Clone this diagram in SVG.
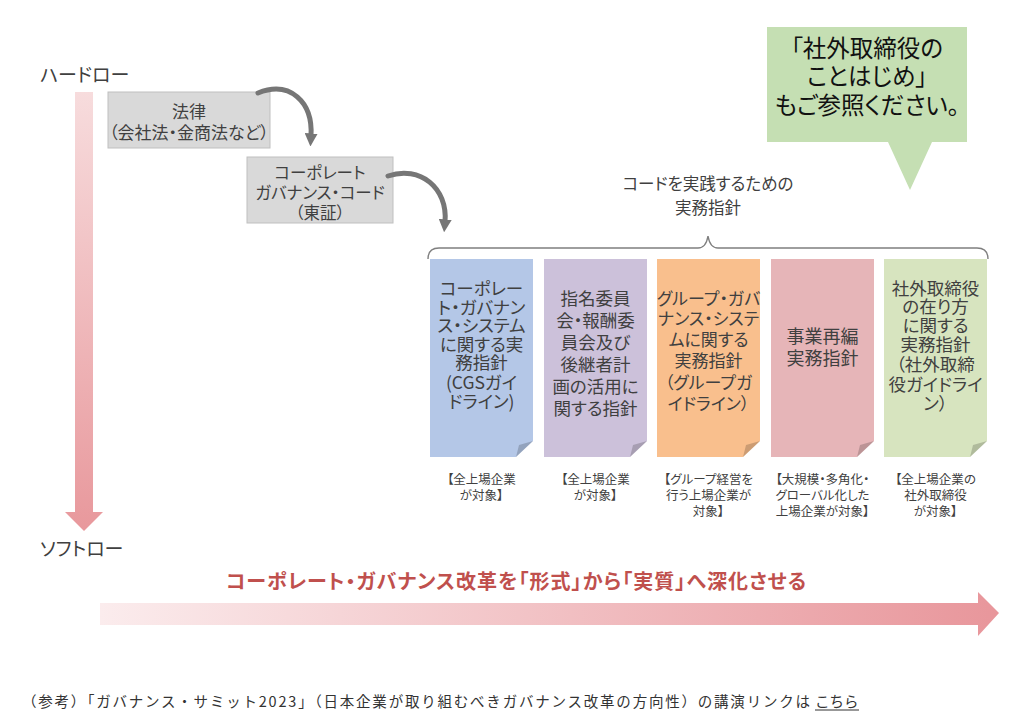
<svg xmlns="http://www.w3.org/2000/svg" width="1024" height="726" viewBox="0 0 1024 726">
<style>
.t{font-family:"Noto Sans CJK JP","Noto Sans",sans-serif;fill:#404040;text-anchor:middle;dominant-baseline:central;font-feature-settings:"palt";}
.l{font-family:"Noto Sans CJK JP","Noto Sans",sans-serif;fill:#404040;dominant-baseline:central;font-feature-settings:"palt";}
.box{fill:#d9d9d9;stroke:#bfbfbf;stroke-width:1;}
.card{stroke:none;}
.fold{fill:#000;fill-opacity:0.18;}
.conn{fill:none;stroke:#767676;stroke-width:5;stroke-linecap:round;}
.brace{fill:none;stroke:#7f7f7f;stroke-width:1.4;}
.lab{font-size:12.5px;}
</style>
<defs>
<linearGradient id="gv" x1="0" y1="0" x2="0" y2="1">
<stop offset="0" stop-color="#f7dcdd"/>
<stop offset="1" stop-color="#e8989c"/>
</linearGradient>
<linearGradient id="gh" x1="0" y1="0" x2="1" y2="0">
<stop offset="0" stop-color="#fbeced"/>
<stop offset="1" stop-color="#e8969b"/>
</linearGradient>
<marker id="ah" viewBox="0 0 10 10" refX="2" refY="5" markerWidth="13" markerHeight="13" markerUnits="userSpaceOnUse" orient="auto">
<path d="M0,0 L10,5 L0,10 z" fill="#767676"/>
</marker>
</defs>
<rect width="1024" height="726" fill="#ffffff"/>

<g id="axis">
<text class="l" x="40" y="73" font-size="19">ハードロー</text>
<polygon points="75,92 93,92 93,512 103,512 84,531 65,512 75,512" fill="url(#gv)"/>
<text class="l" x="40" y="547" font-size="19">ソフトロー</text>
</g>

<g id="law">
<rect class="box" x="108" y="92" width="162" height="56"/>
<text class="t" x="189" y="110" font-size="17">法律</text>
<text class="t" x="189" y="131" font-size="17">（会社法・金商法など）</text>
</g>

<g id="cgcode">
<rect class="box" x="247" y="157" width="146" height="66"/>
<text class="t" x="320" y="172" font-size="16.5">コーポレート</text>
<text class="t" x="320" y="192" font-size="16.5">ガバナンス・コード</text>
<text class="t" x="320" y="212" font-size="16.5">（東証）</text>
</g>

<g id="connectors">
<path class="conn" d="M258,93 C290,80 313,102 311,136" marker-end="url(#ah)"/>
<path class="conn" d="M388,176 C420,165 448,188 445,222" marker-end="url(#ah)"/>
</g>

<g id="brace-label">
<text class="t" x="708" y="183" font-size="16.5">コードを実践するための</text>
<text class="t" x="708" y="207" font-size="16.5">実務指針</text>
<path class="brace" d="M428,259 Q428,248 439,248 H698 Q706,248 708,236 Q710,248 718,248 H977 Q988,248 988,259"/>
</g>

<g id="bubble">
<path d="M767,27 H967 V142 H932 L910,190 L888,142 H767 Z" fill="#c5dfb3"/>
<text class="t" x="867" y="47" font-size="23.5" style="fill:#111">「社外取締役の</text>
<text class="t" x="867" y="75" font-size="23.5" style="fill:#111">ことはじめ」</text>
<text class="t" x="867" y="104" font-size="23.5" style="fill:#111">もご参照ください。</text>
</g>

<g id="card1">
<path class="card" d="M430,259 H533 V441 L516,457 H430 Z" fill="#b4c7e7"/>
<path class="fold" d="M533,441 L516,457 L519,445 Z"/>
<text class="t" font-size="17.5" x="481.5"><tspan x="481.5" y="287">コーポレー</tspan><tspan x="481.5" y="305.5">ト・ガバナン</tspan><tspan x="481.5" y="324">ス・システム</tspan><tspan x="481.5" y="342.5">に関する実</tspan><tspan x="481.5" y="361">務指針</tspan><tspan x="481.5" y="381">(CGSガイ</tspan><tspan x="481.5" y="400">ドライン)</tspan></text>
<text class="t lab" x="481.5" y="478">【全上場企業</text>
<text class="t lab" x="481.5" y="494">が対象】</text>
</g>

<g id="card2">
<path class="card" d="M544,259 H647 V441 L630,457 H544 Z" fill="#ccc1da"/>
<path class="fold" d="M647,441 L630,457 L633,445 Z"/>
<text class="t" font-size="17.5" x="595.5"><tspan x="595.5" y="297">指名委員</tspan><tspan x="595.5" y="318.5">会・報酬委</tspan><tspan x="595.5" y="340.5">員会及び</tspan><tspan x="595.5" y="362.5">後継者計</tspan><tspan x="595.5" y="385">画の活用に</tspan><tspan x="595.5" y="407">関する指針</tspan></text>
<text class="t lab" x="595.5" y="478">【全上場企業</text>
<text class="t lab" x="595.5" y="494">が対象】</text>
</g>

<g id="card3">
<path class="card" d="M657,259 H760 V441 L743,457 H657 Z" fill="#f9bf8d"/>
<path class="fold" d="M760,441 L743,457 L746,445 Z"/>
<text class="t" font-size="17" x="708.5"><tspan x="708.5" y="297">グループ・ガバ</tspan><tspan x="708.5" y="317">ナンス・システ</tspan><tspan x="708.5" y="338">ムに関する</tspan><tspan x="708.5" y="359">実務指針</tspan><tspan x="708.5" y="381">（グループガ</tspan><tspan x="708.5" y="402">イドライン）</tspan></text>
<text class="t lab" x="708.5" y="478">【グループ経営を</text>
<text class="t lab" x="708.5" y="494">行う上場企業が</text>
<text class="t lab" x="708.5" y="510">対象】</text>
</g>

<g id="card4">
<path class="card" d="M771,259 H874 V441 L857,457 H771 Z" fill="#e6b5b8"/>
<path class="fold" d="M874,441 L857,457 L860,445 Z"/>
<text class="t" font-size="18" x="822.5"><tspan x="822.5" y="335">事業再編</tspan><tspan x="822.5" y="357">実務指針</tspan></text>
<text class="t lab" x="822.5" y="478">【大規模・多角化・</text>
<text class="t lab" x="822.5" y="494">グローバル化した</text>
<text class="t lab" x="822.5" y="510">上場企業が対象】</text>
</g>

<g id="card5">
<path class="card" d="M884,259 H987 V441 L970,457 H884 Z" fill="#d7e4bf"/>
<path class="fold" d="M987,441 L970,457 L973,445 Z"/>
<text class="t" font-size="17.5" x="935.5"><tspan x="935.5" y="287">社外取締役</tspan><tspan x="935.5" y="305">の在り方</tspan><tspan x="935.5" y="323.5">に関する</tspan><tspan x="935.5" y="343">実務指針</tspan><tspan x="935.5" y="363">（社外取締</tspan><tspan x="935.5" y="383">役ガイドライ</tspan><tspan x="935.5" y="402">ン）</tspan></text>
<text class="t lab" x="935.5" y="478">【全上場企業の</text>
<text class="t lab" x="935.5" y="494">社外取締役</text>
<text class="t lab" x="935.5" y="510">が対象】</text>
</g>

<g id="reform">
<text class="t" x="516" y="580" font-size="20" font-weight="bold" style="fill:#c0504d" textLength="580">コーポレート・ガバナンス改革を「形式」から「実質」へ深化させる</text>
<polygon points="100,603 978,603 978,592 999,613 978,636 978,625 100,625" fill="url(#gh)"/>
</g>

<g id="footer">
<text x="22" y="700" font-size="14.5" style="font-family:'Noto Sans CJK JP','Noto Sans',sans-serif;fill:#333;dominant-baseline:central" textLength="788">（参考）「ガバナンス・サミット2023」（日本企業が取り組むべきガバナンス改革の方向性）の講演リンクは</text>
<text x="815" y="700" font-size="14.5" style="font-family:'Noto Sans CJK JP','Noto Sans',sans-serif;fill:#333;dominant-baseline:central">こちら</text>
<line x1="815" y1="710" x2="859" y2="710" stroke="#333" stroke-width="1"/>
</g>
</svg>
